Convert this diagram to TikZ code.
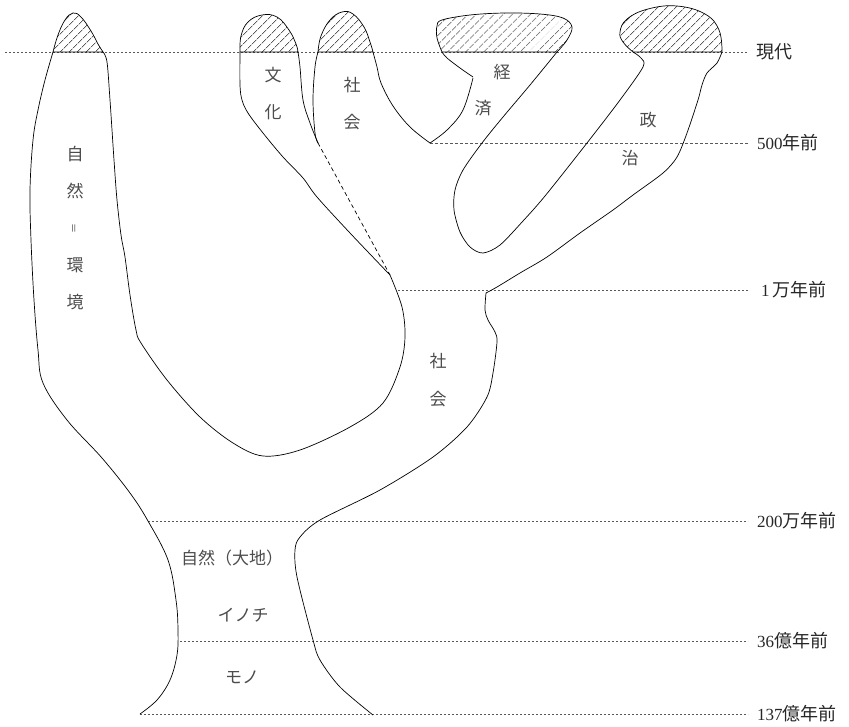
\documentclass[tikz,border=0pt]{standalone}
\usepackage{fontspec}
\setmainfont{Liberation Serif}
\newfontfamily\jp{Noto Sans CJK JP}
\usetikzlibrary{patterns.meta}
\newcommand{\dig}[1]{{\rmfamily\fontsize{17}{17}\selectfont #1}}
\begin{document}
\begin{tikzpicture}[x=1pt,y=-1pt,
  outline/.style={line width=0.7pt, black},
  hatch/.style={outline, draw=black, pattern={Lines[angle=45,distance=6.5pt,line width=0.65pt]}, pattern color=black},
  era/.style={line width=0.6pt, gray!70!black, dash pattern=on 2pt off 2pt},
  lab/.style={inner sep=0pt, text=black!70, font=\jp\fontsize{17}{17}\selectfont},
  eralab/.style={inner sep=0pt, anchor=west, text=black!85, font=\jp\fontsize{18}{18}\selectfont}]
\useasboundingbox (0,0) rectangle (849,726);

% era lines
\draw[era] (5,52) -- (748,52);
\draw[era, dash pattern=on 3pt off 2pt] (430,143) -- (748,143);
\draw[era] (398,290) -- (748,290);
\draw[era] (148,521) -- (748,521);
\draw[era] (180,641) -- (748,641);
\draw[era] (140,714) -- (748,714);

% caps
\path[hatch] plot[smooth, tension=0.7] coordinates {(53,52) (58,35) (65,20) (73,13) (81,17) (91,31) (98,44) (103,52)} -- cycle;
\path[hatch] plot[smooth, tension=0.7] coordinates {(240,52) (241,36) (248,22) (262,15) (277,17) (289,30) (296,44) (298,52)} -- cycle;
\path[hatch] plot[smooth, tension=0.7] coordinates {(318,52) (321,36) (330,20) (342,12) (353,14) (364,27) (370,42) (373,52)} -- cycle;
\path[hatch] plot[smooth, tension=0.6] coordinates {(442,52) (437,38) (437,26) (442,20) (470,15) (505,13) (540,14) (563,18) (572,27) (567,40) (557,52)} -- cycle;
\path[hatch] plot[smooth, tension=0.7] coordinates {(633,52) (623,42) (620,32) (627,19) (648,9) (677,6) (705,14) (719,30) (722,52)} -- cycle;

% left outer edge of nature column
\draw[outline] plot[smooth, tension=0.6] coordinates {(140,714) (157,700) (170,680) (177,655) (178,630) (176,600) (168,560) (148,521) (130,493) (102,458) (67,420) (43,383) (38,350) (34,300) (31,240) (30,190) (33,140) (38,110) (45,80) (53,52)};

% right edge of nature column, inner loop, up to junction
\draw[outline] plot[smooth, tension=0.55] coordinates {(103,52) (107,62) (110,100) (114,160) (117,200) (121,235) (125,257) (130,295) (136,330) (141,343) (167,380) (200,417) (233,443) (263,456) (300,450) (350,427) (383,403) (400,367) (405,337) (402,307) (390,275)};

% bunka left edge
\draw[outline] plot[smooth, tension=0.55] coordinates {(390,275) (350,233) (317,197) (303,178) (283,157) (263,133) (248,113) (242,100) (240,85) (240,52)};

% bunka right edge and shakai left edge (notch)
\draw[outline] plot[smooth, tension=0.6] coordinates {(298,52) (300,67) (303,100) (310,123) (318,143)};
\draw[outline] plot[smooth, tension=0.6] coordinates {(318,143) (315,133) (313,100) (315,67) (318,52)};
\draw[outline, dashed, dash pattern=on 4pt off 3pt] (318,143) -- (390,275);

% shakai right edge
\draw[outline] plot[smooth, tension=0.6] coordinates {(373,52) (377,67) (381,83) (393,106) (410,127) (430,143)};

% keizai notch
\draw[outline] plot[smooth, tension=0.6] coordinates {(430,143) (447,130) (463,110) (473,78)};
\draw[outline] plot[smooth, tension=0.6] coordinates {(473,77) (460,68) (447,58) (442,52)};

% keizai right edge, loop, seiji left edge
\draw[outline] plot[smooth, tension=0.5] coordinates {(557,52) (530,85) (503,117) (482,143) (463,170) (455,190) (454,210) (460,232) (470,247) (483,253) (500,245) (523,221) (545,196) (587,143) (620,100) (643,67) (641,58) (633,52)};

% seiji right edge down the trunk
\draw[outline] plot[smooth, tension=0.5] coordinates {(722,52) (717,63) (707,73) (702,85) (698,100) (687,133) (677,157) (663,173) (633,195) (613,210) (580,233) (547,257) (520,273) (497,287) (486,293)};
\draw[outline] plot[smooth, tension=0.5] coordinates {(486,293) (485,310) (488,320) (495,332) (497,342) (493,373) (487,397) (467,427) (433,457) (380,490) (320,520) (300,537) (295,550) (297,577) (313,640) (320,660) (340,687) (373,715)};

% labels
\node[lab] (shi) at (75,154) {自};
\node[lab] (zen) at (75,191) {然};
\node[lab, rotate=90, font=\jp\fontsize{10}{10}\selectfont] (eq) at (75,228) {＝};
\node[lab] (kan) at (75,265) {環};
\node[lab] (kyo) at (75,302) {境};
\node[lab] (bun) at (273,75) {文};
\node[lab] (ka) at (273,112) {化};
\node[lab] (sha1) at (352,85) {社};
\node[lab] (kai1) at (352,122) {会};
\node[lab] (kei) at (502,72) {経};
\node[lab] (sai) at (483,108) {済};
\node[lab] (sei) at (648,120) {政};
\node[lab] (ji) at (630,158) {治};
\node[lab] (sha2) at (438,361) {社};
\node[lab] (kai2) at (438,399) {会};
\node[lab] (daichi) at (232,558) {自然（大地）};
\node[lab] (inochi) at (243,615) {イノチ};
\node[lab] (mono) at (242,677) {モノ};

\node[eralab] (t0) at (756,52) {現代};
\node[eralab] (t1) at (757,143) {\dig{500}年前};
\node[eralab] (t2) at (761,290) {\dig{1}\,万年前};
\node[eralab] (t3) at (757,521) {\dig{200}万年前};
\node[eralab] (t4) at (757,641) {\dig{36}億年前};
\node[eralab] (t5) at (757,714) {\dig{137}億年前};
\end{tikzpicture}
\end{document}
